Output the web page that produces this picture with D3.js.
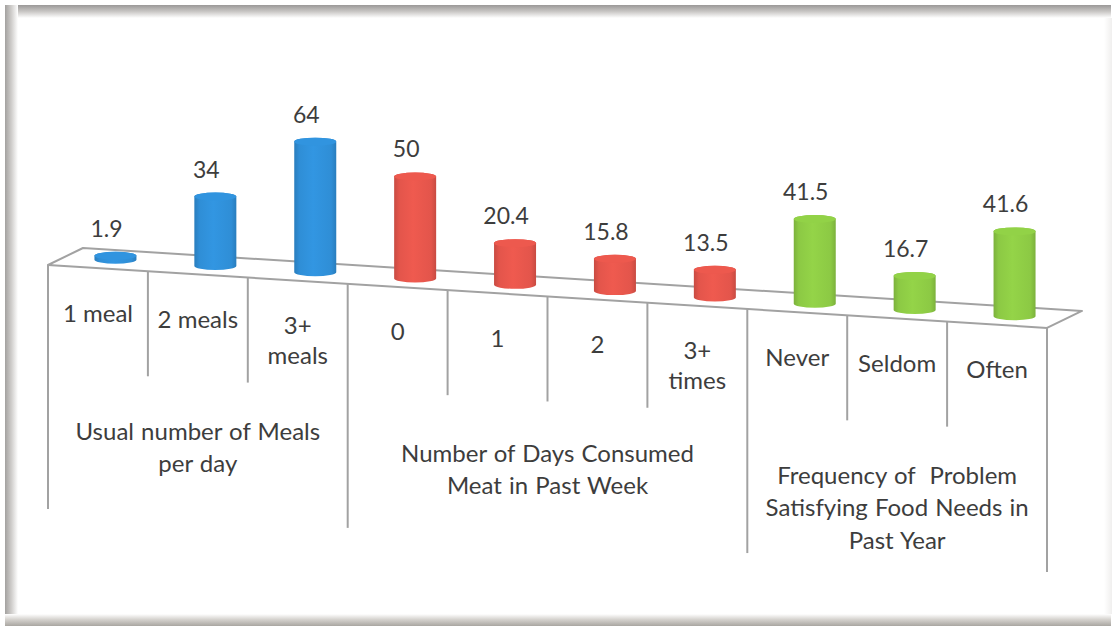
<!DOCTYPE html>
<html>
<head>
<meta charset="utf-8">
<script src="https://cdn.jsdelivr.net/npm/d3@7/dist/d3.min.js"></script>
<style>
  body { margin: 0; background: #ffffff; }
  svg { display: block; }
  text { font-family: Lato, "Open Sans", sans-serif; fill: #3d3d3d; }
</style>
</head>
<body>
<svg id="chart" width="1115" height="628"></svg>
<script>
// Survey categories (line breaks inside labels marked with "\n")
const categories = ["1 meal", "2 meals", "3+\nmeals", "0", "1", "2", "3+\ntimes", "Never", "Seldom", "Often"];
// Percentage of respondents in each category
const values = [1.9, 34, 64, 50, 20.4, 15.8, 13.5, 41.5, 16.7, 41.6];
// Which question each category belongs to
const categoryGroup = [0, 0, 0, 1, 1, 1, 1, 2, 2, 2];
// Question titles shown under each block of categories
const groupLabels = [
  "Usual number of Meals\nper day",
  "Number of Days Consumed\nMeat in Past Week",
  "Frequency of  Problem\nSatisfying Food Needs in\nPast Year"
];
const groupColors = ["#2f8ed6", "#e3554b", "#8cc944"];

const svg = d3.select("#chart");

// ---- frame around the picture ----
const defs = svg.append("defs");
function lin(id, x1, y1, x2, y2, stops) {
  const g = defs.append("linearGradient").attr("id", id)
    .attr("x1", x1).attr("y1", y1).attr("x2", x2).attr("y2", y2);
  stops.forEach(([o, c]) => g.append("stop").attr("offset", o).attr("stop-color", c));
}
lin("frameTop", 0, 0, 0, 1, [[0, "#9a9897"], [0.5, "#c9c7c5"], [1, "#ffffff"]]);
lin("frameLeft", 0, 0, 1, 0, [[0, "#a3a19f"], [0.5, "#d0cecc"], [1, "#ffffff"]]);
lin("frameBottom", 0, 0, 0, 1, [[0, "#ffffff"], [0.45, "#d6d3cf"], [1, "#a9a6a1"]]);
lin("frameRight", 0, 0, 1, 0, [[0, "#ffffff"], [1, "#f0efee"]]);

svg.append("rect").attr("x", 5).attr("y", 5).attr("width", 1106).attr("height", 13).attr("fill", "url(#frameTop)");
svg.append("rect").attr("x", 5).attr("y", 5).attr("width", 13).attr("height", 620).attr("fill", "url(#frameLeft)");
svg.append("rect").attr("x", 5).attr("y", 614).attr("width", 1106).attr("height", 12).attr("fill", "url(#frameBottom)");
svg.append("rect").attr("x", 1104).attr("y", 18).attr("width", 8).attr("height", 596).attr("fill", "url(#frameRight)");

// ---- scales ----
const x = d3.scaleBand().domain(categories).range([48, 1047]).paddingInner(0).paddingOuter(0);
const bw = x.bandwidth();
const h = d3.scaleLinear().domain([0, 64]).range([0, 130.6]);

// Oblique floor: front edge slopes down to the right, depth goes up-right
const slope = 0.063;
const y0 = 265;
const depth = { dx: 35, dy: -17 };
const yFront = px => y0 + (px - 48) * slope;

const lineColor = "#a2a2a2";

// floor top
const fl = [[48, yFront(48)], [1047, yFront(1047)],
            [1047 + depth.dx, yFront(1047) + depth.dy], [48 + depth.dx, yFront(48) + depth.dy]];
svg.append("path")
  .attr("d", d3.line()(fl) + "Z")
  .attr("fill", "#ffffff").attr("stroke", lineColor).attr("stroke-width", 2)
  .attr("stroke-linejoin", "round");

// ---- category dividers (short) and group dividers (long) ----
const boundaries = categories.map((c, i) => ({
  px: x(c),
  major: i === 0 || categoryGroup[i] !== categoryGroup[i - 1]
}));
boundaries.push({ px: x(categories[categories.length - 1]) + bw, major: true });

svg.append("g").selectAll("line").data(boundaries).join("line")
  .attr("x1", d => d.px).attr("x2", d => d.px)
  .attr("y1", d => yFront(d.px))
  .attr("y2", d => yFront(d.px) + (d.major ? 244 : 105))
  .attr("stroke", lineColor).attr("stroke-width", 2);

// ---- cylinder shading ----
groupColors.forEach((c, i) => {
  const base = d3.color(c);
  const g = defs.append("linearGradient").attr("id", "cyl" + i)
    .attr("x1", 0).attr("y1", 0).attr("x2", 1).attr("y2", 0);
  g.append("stop").attr("offset", 0).attr("stop-color", base.darker(0.35));
  g.append("stop").attr("offset", 0.12).attr("stop-color", base);
  g.append("stop").attr("offset", 0.45).attr("stop-color", base.brighter(0.15));
  g.append("stop").attr("offset", 0.88).attr("stop-color", base);
  g.append("stop").attr("offset", 1).attr("stop-color", base.darker(0.35));
});

const r = 21, ry = 4;
const bars = categories.map((c, i) => {
  const fx = x(c) + bw / 2;
  const cx = fx + depth.dx / 2;
  const base = yFront(fx) + depth.dy / 2;
  const top = base - h(values[i]);
  return { c, i, fx, cx, base, top, v: values[i], g: categoryGroup[i] };
});

const cyl = svg.append("g").selectAll("g").data(bars).join("g");
cyl.append("path")
  .attr("d", d => `M${d.cx - r},${d.top} L${d.cx - r},${d.base} A${r},${ry} 0 0 0 ${d.cx + r},${d.base} L${d.cx + r},${d.top} A${r},${ry} 0 0 0 ${d.cx - r},${d.top} Z`)
  .attr("fill", d => `url(#cyl${d.g})`);
cyl.append("ellipse")
  .attr("cx", d => d.cx).attr("cy", d => d.top)
  .attr("rx", r).attr("ry", ry)
  .attr("fill", d => d3.color(groupColors[d.g]).brighter(0.12));

// value labels
svg.append("g").selectAll("text").data(bars).join("text")
  .attr("x", d => d.cx - 9)
  .attr("y", d => d.top - ry - 15)
  .attr("text-anchor", "middle")
  .attr("font-size", 23)
  .text(d => d.v);

// category labels
const catText = svg.append("g").selectAll("text").data(bars).join("text")
  .attr("text-anchor", "middle")
  .attr("font-size", 24);
catText.each(function (d) {
  const t = d3.select(this);
  d.c.split("\n").forEach((line, k) => {
    t.append("tspan")
      .attr("x", d.fx)
      .attr("y", yFront(d.fx) + 45 + k * 30)
      .attr("dy", "0.35em")
      .text(line);
  });
});

// group labels
const groupInfo = groupLabels.map((lab, gi) => {
  const members = categories.filter((c, i) => categoryGroup[i] === gi);
  const left = x(members[0]);
  const right = x(members[members.length - 1]) + bw;
  return { lab, gx: (left + right) / 2 };
});
const grpText = svg.append("g").selectAll("text").data(groupInfo).join("text")
  .attr("text-anchor", "middle")
  .attr("font-size", 24)
  .attr("word-spacing", 1);
grpText.each(function (d) {
  const t = d3.select(this);
  d.lab.split("\n").forEach((line, k) => {
    t.append("tspan")
      .attr("x", d.gx)
      .attr("y", yFront(d.gx) + 157 + k * 32.5)
      .attr("dy", "0.35em")
      .style("white-space", "pre")
      .text(line);
  });
});
</script>
</body>
</html>
